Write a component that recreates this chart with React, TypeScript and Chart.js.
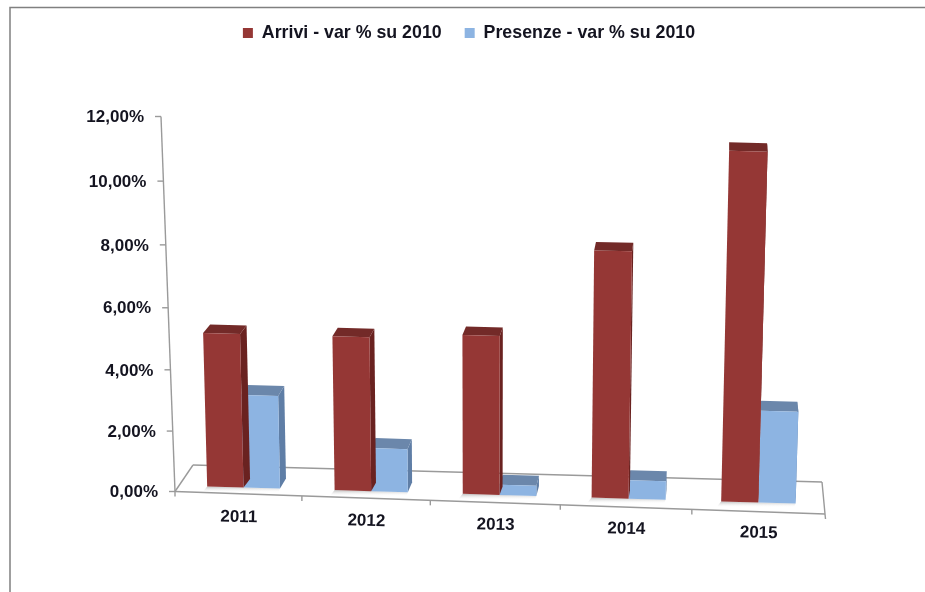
import React, { useEffect, useRef } from "react";
import { Chart, registerables } from "chart.js";

Chart.register(...registerables);

const categories = ["2011", "2012", "2013", "2014", "2015"];
const arrivi = [4.95, 4.95, 5.1, 7.85, 11.0];
const presenze = [3.0, 1.4, 0.33, 0.6, 2.95];
const seriesNames = ["Arrivi - var % su 2010", "Presenze - var % su 2010"];
const FRONT = ["#953735", "#8db4e2"];
const TOP = ["#732a28", "#6b87ab"];
const SIDE = ["#6a2220", "#5f7ea6"];
const AXIS = "#9a9a9a";
const FONT = "bold 17px 'Liberation Sans', Arial, sans-serif";
const INK = "#141420";

type P = [number, number];

function quadMap(q: P[]) {
  const [[x0, y0], [x1, y1], [x2, y2], [x3, y3]] = q;
  const dx1 = x1 - x2, dx2 = x3 - x2, sx = x0 - x1 + x2 - x3;
  const dy1 = y1 - y2, dy2 = y3 - y2, sy = y0 - y1 + y2 - y3;
  const den = dx1 * dy2 - dx2 * dy1;
  const g = (sx * dy2 - dx2 * sy) / den;
  const h = (dx1 * sy - sx * dy1) / den;
  const a = x1 - x0 + g * x1, b = x3 - x0 + h * x3, c = x0;
  const d = y1 - y0 + g * y1, e = y3 - y0 + h * y3, f = y0;
  return (u: number, v: number): P => {
    const w = g * u + h * v + 1;
    return [(a * u + b * v + c) / w, (d * u + e * v + f) / w];
  };
}

// Projection of the flat plot rectangle onto the tilted chart planes (BL, BR, TR, TL).
const barPlane = quadMap([[180, 485.6], [823.5, 504.4], [836, 120], [169, 106]]);
const wallPlane = quadMap([[175, 491.5], [825, 514], [838, 128], [161, 116.5]]);
const floorBack: P[] = [[193, 465], [822, 482]];

const depthX = (x: number) => 7 - (7 * (x - 205)) / 525;
const DEPTH_Y = [8.5, 10];

function poly(ctx: CanvasRenderingContext2D, pts: P[], fill: string | CanvasGradient) {
  ctx.beginPath();
  pts.forEach((p, i) => (i ? ctx.lineTo(p[0], p[1]) : ctx.moveTo(p[0], p[1])));
  ctx.closePath();
  ctx.fillStyle = fill;
  ctx.fill();
}

function line(ctx: CanvasRenderingContext2D, a: P, b: P) {
  ctx.beginPath();
  ctx.moveTo(a[0], a[1]);
  ctx.lineTo(b[0], b[1]);
  ctx.stroke();
}

const perspective = {
  id: "perspective",
  beforeDraw(chart: any) {
    const ctx: CanvasRenderingContext2D = chart.ctx;
    ctx.save();
    ctx.fillStyle = "#fff";
    ctx.fillRect(0, 0, chart.width, chart.height);
    ctx.strokeStyle = "#808080";
    ctx.lineWidth = 1.5;
    ctx.beginPath();
    ctx.moveTo(10, 592);
    ctx.lineTo(10, 7.5);
    ctx.lineTo(925, 7.5);
    ctx.stroke();
    ctx.restore();
  },
  beforeDatasetsDraw(chart: any) {
    const ctx: CanvasRenderingContext2D = chart.ctx;
    const xs = chart.scales.x, ys = chart.scales.y;
    const area = chart.chartArea;
    const zero = ys.getPixelForValue(0), topPx = ys.getPixelForValue(12);
    const vOf = (val: number) => (zero - ys.getPixelForValue(val)) / (zero - topPx);
    const half = (xs.getPixelForValue(1) - xs.getPixelForValue(0)) / 2;
    const uOf = (px: number) => (px - area.left) / area.width;
    ctx.save();
    ctx.strokeStyle = AXIS;
    ctx.lineWidth = 1.4;
    // floor
    const fl = wallPlane(0, 0), fr = wallPlane(1, 0);
    line(ctx, fl, fr);
    line(ctx, fl, floorBack[0]);
    line(ctx, floorBack[0], floorBack[1]);
    line(ctx, floorBack[1], fr);
    // value axis
    line(ctx, wallPlane(0, 0), wallPlane(0, 1));
    ctx.font = FONT;
    ctx.fillStyle = INK;
    ctx.textAlign = "right";
    ctx.textBaseline = "middle";
    ys.ticks.forEach((t: any) => {
      const p = wallPlane(0, vOf(t.value));
      line(ctx, p, [p[0] - 6, p[1]]);
      ctx.fillText(t.label, p[0] - 17, p[1] + 1);
    });
    // category axis
    for (let i = 0; i <= categories.length; i++) {
      const px = i < categories.length ? xs.getPixelForValue(i) - half : xs.getPixelForValue(i - 1) + half;
      const p = wallPlane(uOf(px), 0);
      line(ctx, p, [p[0] + (i === categories.length ? 0.5 : 0), p[1] + 5]);
    }
    ctx.textAlign = "center";
    xs.ticks.forEach((t: any, i: number) => {
      const p = wallPlane(uOf(xs.getPixelForValue(i)), 0);
      ctx.save();
      ctx.translate(p[0] + 0.5, p[1] + 23.5 - i * 0.55);
      ctx.rotate(0.022);
      ctx.fillText(t.label, 0, 0);
      ctx.restore();
    });
    // shadows beneath the columns
    const m0 = chart.getDatasetMeta(0).data, m1 = chart.getDatasetMeta(1).data;
    m0.forEach((el: any, i: number) => {
      const a = barPlane(uOf(el.x - el.width / 2), 0);
      const b = barPlane(uOf(m1[i].x + m1[i].width / 2), 0);
      const g = ctx.createLinearGradient(0, a[1], 0, a[1] + 6);
      g.addColorStop(0, "#c0c0c0");
      g.addColorStop(1, "rgba(255,255,255,0)");
      poly(ctx, [a, b, [b[0] - 2, b[1] + 5], [a[0] - 4, a[1] + 5]], g);
    });
    ctx.restore();
  },
  beforeDatasetDraw(chart: any, args: any) {
    const ctx: CanvasRenderingContext2D = chart.ctx;
    const ys = chart.scales.y;
    const area = chart.chartArea;
    const zero = ys.getPixelForValue(0), topPx = ys.getPixelForValue(12);
    const k = args.index;
    ctx.save();
    args.meta.data.forEach((el: any) => {
      const ul = (el.x - el.width / 2 - area.left) / area.width;
      const ur = (el.x + el.width / 2 - area.left) / area.width;
      const v = (zero - el.y) / (zero - topPx);
      const v0 = (zero - el.base) / (zero - topPx);
      const fbl = barPlane(ul, v0), fbr = barPlane(ur, v0), ftr = barPlane(ur, v), ftl = barPlane(ul, v);
      const back = (p: P): P => [p[0] + depthX(p[0]), p[1] - DEPTH_Y[k]];
      poly(ctx, [fbr, ftr, back(ftr), back(fbr)], SIDE[k]);
      poly(ctx, [ftl, ftr, back(ftr), back(ftl)], TOP[k]);
      poly(ctx, [fbl, fbr, ftr, ftl], FRONT[k]);
    });
    ctx.restore();
    return false;
  },
};

export default function App() {
  const ref = useRef<HTMLCanvasElement>(null);
  useEffect(() => {
    const chart = new Chart(ref.current!, {
      type: "bar",
      data: {
        labels: categories,
        datasets: [
          { label: seriesNames[0], data: arrivi, backgroundColor: FRONT[0], categoryPercentage: 0.572, barPercentage: 1 },
          { label: seriesNames[1], data: presenze, backgroundColor: FRONT[1], categoryPercentage: 0.572, barPercentage: 1 },
        ],
      },
      options: {
        responsive: false,
        animation: false,
        layout: { padding: { left: 13, top: 1, right: 0, bottom: 60 } },
        plugins: {
          legend: {
            position: "top",
            labels: {
              boxWidth: 10,
              boxHeight: 10,
              padding: 23,
              color: INK,
              font: { family: "'Liberation Sans', Arial, sans-serif", size: 17.8, weight: "bold" },
            },
          },
          tooltip: { enabled: false },
        },
        scales: {
          x: {
            grid: { display: false },
            border: { display: false },
            ticks: { display: false, autoSkip: false },
          },
          y: {
            min: 0,
            max: 12,
            grid: { display: false },
            border: { display: false },
            ticks: {
              display: false,
              stepSize: 2,
              callback: (v: any) => Number(v).toFixed(2).replace(".", ",") + "%",
            },
          },
        },
      },
      plugins: [perspective],
    } as any);
    return () => chart.destroy();
  }, []);
  return (
    <canvas
      ref={ref}
      width={925}
      height={592}
      style={{ position: "fixed", left: 0, top: 0, width: 925, height: 592 }}
    />
  );
}
